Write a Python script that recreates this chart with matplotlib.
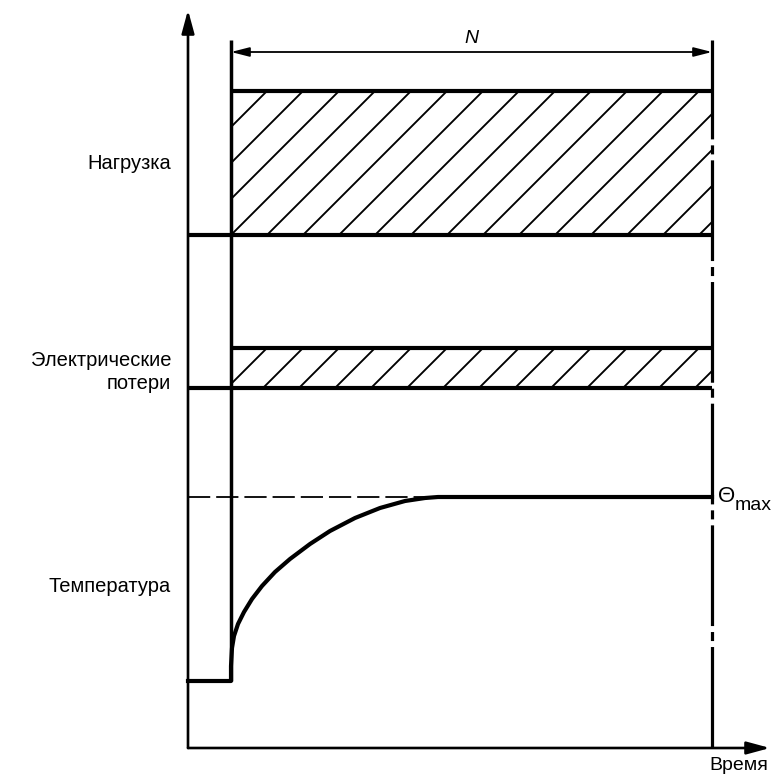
import numpy as np
import matplotlib.pyplot as plt
from matplotlib.patches import Rectangle

plt.rcParams['font.family'] = ['Liberation Sans', 'DejaVu Sans']
plt.rcParams['lines.scale_dashes'] = False

# diagram values (time along x, level along y; origin at the axes corner)
t_on = 43
t_end = 524
t_axis_end = 582
level_axis_end = 738
level_top = 708          # top of the vertical boundary lines
level_n_arrow = 696

load_low, load_high = 513, 657
loss_low, loss_high = 360, 400
temp_start, temp_max = 67, 251

# temperature rise
temp_t = [0, 43, 43, 44, 46, 50, 56, 64, 74, 87, 102, 122, 142, 167, 192, 217, 237, 250, 524]
temp_v = [67, 67, 82, 100, 112, 124, 136, 149, 162, 176, 189, 204, 217, 230, 240, 247, 250, 251, 251]
t_reach_max = 240

labels = ["Нагрузка", "Электрические\nпотери", "Температура"]
label_levels = [585, 376, 161]

fig = plt.figure(figsize=(7.74, 7.78), dpi=100)
ax = fig.add_axes([0, 0, 1, 1])
ax.set_xlim(-188, 586)
ax.set_ylim(-30, 748)
ax.axis("off")

thick = 3.0
thin = 1.9

# axes with arrows
ax.annotate("", xy=(0, level_axis_end), xytext=(0, 0),
            arrowprops=dict(arrowstyle="-|>,head_length=1.4,head_width=0.38",
                            lw=thin, color="k", shrinkA=0, shrinkB=0))
ax.annotate("", xy=(t_axis_end, 0), xytext=(0, 0),
            arrowprops=dict(arrowstyle="-|>,head_length=1.4,head_width=0.38",
                            lw=thin, color="k", shrinkA=0, shrinkB=0))

# boundary lines
ax.plot([t_on, t_on], [temp_start, level_top], color="k", lw=2.5, solid_capstyle="butt")
ax.plot([t_end, t_end], [level_top, 0], color="k", lw=2.3,
        linestyle=(1.3, (72.5, 4.3, 6.5, 4.3)), dash_capstyle="butt")

# N arrow
ax.annotate("", xy=(t_end, level_n_arrow), xytext=(t_on, level_n_arrow),
            arrowprops=dict(arrowstyle="<|-|>,head_length=1.1,head_width=0.28",
                            lw=1.3, color="k", shrinkA=0, shrinkB=0))
ax.text((t_on + t_end) / 2, level_n_arrow + 5, "N", style="italic",
        ha="center", va="bottom", fontsize=14)

# hatched bands
def band(low, high, spacing=36):
    clip = Rectangle((t_on, low), t_end - t_on, high - low, fill=False, lw=0)
    ax.add_patch(clip)
    h = high - low
    for x0 in np.arange(t_on - h, t_end + spacing, spacing):
        ln, = ax.plot([x0, x0 + h], [low, high], color="k", lw=1.35)
        ln.set_clip_path(clip)
    ax.plot([0, t_end], [low, low], color="k", lw=thick, solid_capstyle="butt")
    ax.plot([t_on, t_end], [high, high], color="k", lw=thick, solid_capstyle="butt")

band(load_low, load_high)
band(loss_low, loss_high)

# temperature
ax.plot([0, t_reach_max], [temp_max, temp_max], color="k", lw=1.3,
        linestyle=(0, (16, 4.3)))
ax.plot(temp_t, temp_v, color="k", lw=thick, solid_joinstyle="round")
ax.text(t_end + 6, temp_max + 1, "Θ", ha="left", va="center", fontsize=16)
ax.text(t_end + 23, temp_max - 9, "max", ha="left", va="center", fontsize=14)

for txt, lv in zip(labels, label_levels):
    ax.text(-17, lv, txt, ha="right", va="center", fontsize=14.5,
            multialignment="right", linespacing=1.3)

ax.text(t_axis_end - 31, -17, "Время", ha="center", va="center", fontsize=14)

fig.savefig("out.png", dpi=100)
